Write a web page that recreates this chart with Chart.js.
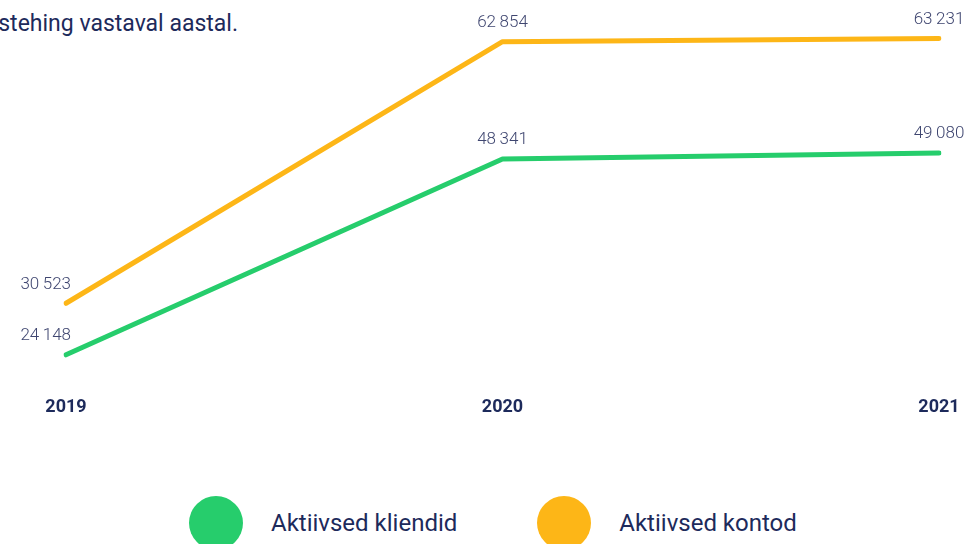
<!DOCTYPE html>
<html>
<head>
<meta charset="utf-8">
<script src="https://cdn.jsdelivr.net/npm/chart.js@4"></script>
<style>
  html, body { margin: 0; padding: 0; background: #fff; overflow: hidden; }
  body { width: 971px; height: 544px; position: relative; font-family: Roboto, sans-serif; color: #1d2a5b; }
  .intro { position: absolute; right: 733px; white-space: nowrap; font-size: 23px; }
  #chartBox { position: absolute; left: 0; top: 0; width: 971px; height: 439px; }
  #legend { position: absolute; left: 189px; top: 496px; display: flex; align-items: center; }
  .item { display: flex; align-items: center; margin-right: 80px; }
  .dot { width: 54px; height: 54px; border-radius: 50%; margin-right: 28px; }
  .item span { font-size: 24px; }
</style>
</head>
<body>
<div class="intro" style="top:-28px;">ja kontod, millel oli aasta jooksul vähemalt üks</div>
<div class="intro" style="top:10px;">arveldustehing vastaval aastal.</div>
<div id="chartBox"><canvas id="chart"></canvas></div>
<div id="legend"></div>
<script>
// Data
const years = ['2019', '2020', '2021'];
const activeClients = [24148, 48341, 49080];
const activeAccounts = [30523, 62854, 63231];
const seriesNames = ['Aktiivsed kliendid', 'Aktiivsed kontod'];
const seriesColors = ['#26cd6c', '#fdb617'];

function formatNum(v) {
    return String(v).replace(/\B(?=(\d{3})+(?!\d))/g, '\u2009');
}

// Value labels above the points
const valueLabels = {
    id: 'valueLabels',
    afterDatasetsDraw(chart) {
        const ctx = chart.ctx;
        ctx.save();
        ctx.font = '300 17px Roboto';
        ctx.fillStyle = '#3f4670';
        ctx.textBaseline = 'middle';
        chart.data.datasets.forEach((ds, i) => {
            chart.getDatasetMeta(i).data.forEach((pt, j) => {
                let x = pt.x;
                if (j === 0) {
                    ctx.textAlign = 'right';
                    x = pt.x + 5;
                } else {
                    ctx.textAlign = 'center';
                }
                ctx.fillText(formatNum(ds.data[j]), x, pt.y - 19);
            });
        });
        ctx.restore();
    }
};

const chart = new Chart(document.getElementById('chart'), {
    type: 'line',
    data: {
        labels: years,
        datasets: [
            { label: seriesNames[1], data: activeAccounts, borderColor: seriesColors[1] },
            { label: seriesNames[0], data: activeClients, borderColor: seriesColors[0] }
        ]
    },
    options: {
        responsive: true,
        maintainAspectRatio: false,
        animation: false,
        elements: {
            line: { borderWidth: 5, tension: 0, borderCapStyle: 'round', borderJoinStyle: 'round' },
            point: { radius: 0 }
        },
        layout: { padding: { left: 66, right: 32, top: 0, bottom: 13 } },
        plugins: { legend: { display: false }, tooltip: { enabled: false } },
        scales: {
            x: {
                offset: false,
                grid: { display: false, drawTicks: false },
                border: { display: false },
                ticks: { color: '#1d2a5b', font: { family: 'Roboto', size: 18, weight: 'bold' }, padding: 8, maxRotation: 0 }
            },
            y: { display: false, min: 20000, max: 68000 }
        }
    },
    plugins: [valueLabels]
});

// HTML legend
const legend = document.getElementById('legend');
[0, 1].forEach(i => {
    const item = document.createElement('div');
    item.className = 'item';
    item.innerHTML = '<div class="dot" style="background:' + seriesColors[i] + '"></div><span>' + seriesNames[i] + '</span>';
    legend.appendChild(item);
});
</script>
</body>
</html>
